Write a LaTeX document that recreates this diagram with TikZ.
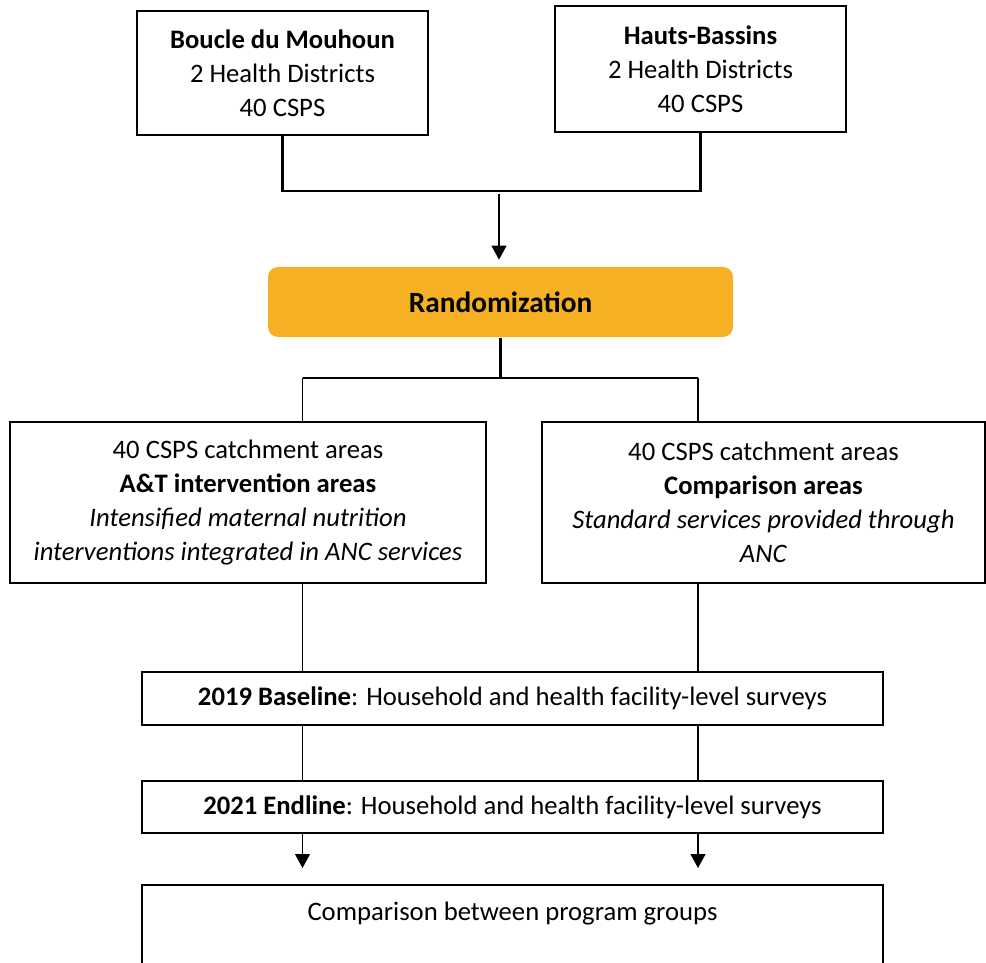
\documentclass[tikz,border=0pt]{standalone}
\usepackage{fontspec}
\setmainfont{Carlito}
\usetikzlibrary{arrows.meta}
\definecolor{randfill}{RGB}{245,177,35}
\tikzset{
  box/.style={draw, line width=1.1pt, align=center, inner sep=0pt,
    font=\fontsize{20}{25.5}\selectfont},
  thickline/.style={line width=1.8pt},
  thinline/.style={line width=0.8pt},
  downarrow/.style={thinline, -{Triangle[width=11.25pt, length=10.5pt]}}
}
\begin{document}
\begin{tikzpicture}[x=0.75pt,y=-0.75pt]
		%%%%% START %%%%%
		\path[use as bounding box, clip] (0,0) rectangle (986,963);
		
		% regions
		\node[box, minimum width=218.25pt, minimum height=93pt] (boucle) at (282.5,73)
			{\textbf{Boucle du Mouhoun}\\2 Health Districts\\40 CSPS};
		\node[box, minimum width=218.25pt, minimum height=94.5pt] (hauts) at (700.5,69)
			{\textbf{Hauts-Bassins}\\2 Health Districts\\40 CSPS};
		
		\coordinate (jl) at (282.5,191);
		\coordinate (jr) at (700.5,191);
		\coordinate (jm) at (499,194);
		\draw[thickline] (boucle.south) -- (jl) -- (jr) -- (hauts.south);
		
		% randomization
		\node[box, draw=none, fill=randfill, rounded corners=7.5pt, minimum width=348.75pt,
			minimum height=52.5pt, font=\fontsize{22}{26}\selectfont] (rand) at (500.5,302) {\textbf{Randomization}};
		\draw[downarrow, shorten >=5pt] (jm) -- (rand.north -| jm);
		
		\coordinate (fork) at (500.5,378);
		\coordinate (fl) at (302.5,378);
		\coordinate (fr) at (698,378);
		\draw[thickline] (rand.south) -- (fork);
		\draw[line width=1pt] (fl) -- (fr);
		
		% arms
		\node[box, minimum width=357pt, minimum height=120.75pt] (armat) at (248,502.5)
			{40 CSPS catchment areas\\\textbf{A\&T intervention areas}\\
			\textit{Intensified maternal nutrition}\\\textit{interventions integrated in ANC services}};
		\node[box, minimum width=332.25pt, minimum height=120.75pt] (armcmp) at (763.5,502.5)
			{40 CSPS catchment areas\\\textbf{Comparison areas}\\
			\textit{Standard services provided through}\\\textit{ANC}};
		\draw[thinline] (fl) -- (armat.north -| fl);
		\draw[thinline] (fr) -- (armcmp.north -| fr);
		
		% surveys
		\node[box, minimum width=555.75pt, minimum height=39.75pt] (base) at (512.5,698.5)
			{\textbf{2019 Baseline}: Household and health facility-level surveys};
		\node[box, minimum width=555.75pt, minimum height=39pt] (end) at (512.5,807)
			{\textbf{2021 Endline}: Household and health facility-level surveys};
		\draw[thinline] (armat.south -| fl) -- (base.north -| fl);
		\draw[thinline] (armcmp.south -| fr) -- (base.north -| fr);
		\draw[thinline] (base.south -| fl) -- (end.north -| fl);
		\draw[thinline] (base.south -| fr) -- (end.north -| fr);
		
		% comparison
		\node[box, minimum width=555.75pt, text height=26.25pt, text depth=60pt, anchor=base] (groups) at (512.5,920)
			{Comparison between program groups};
		\coordinate (al) at (302.5,868);
		\coordinate (ar) at (698,868);
		\draw[downarrow] (end.south -| al) -- (al);
		\draw[downarrow] (end.south -| ar) -- (ar);
		
		%%%%% END %%%%%
\end{tikzpicture}
\end{document}
